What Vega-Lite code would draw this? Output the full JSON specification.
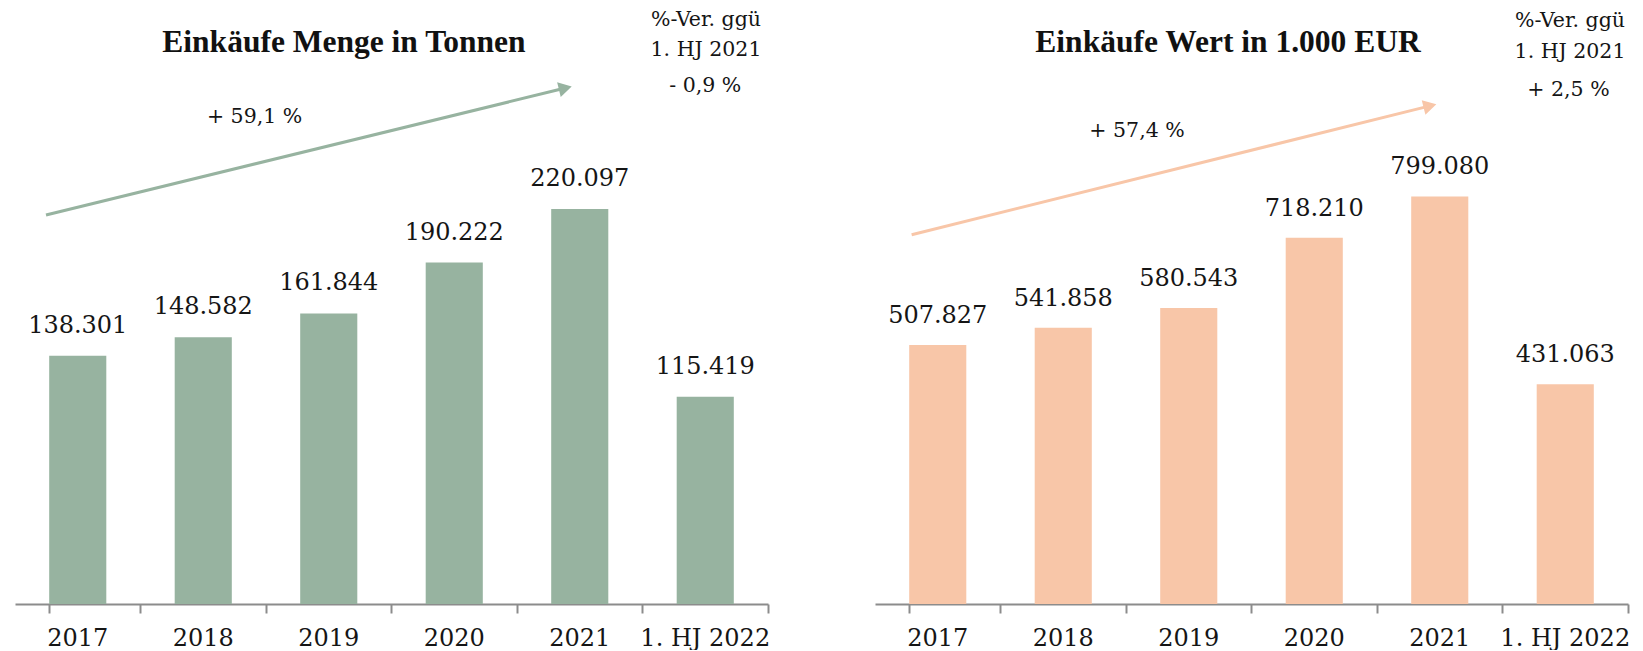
{
  "$schema": "https://vega.github.io/schema/vega-lite/v6.json",
  "background": "white",
  "padding": {"left": 15, "top": 0, "right": 0, "bottom": 0},
  "bounds": "flush",
  "spacing": 107,
  "config": {
    "view": {"stroke": null},
    "font": "DejaVu Serif",
    "locale": {"number": {"decimal": ",", "thousands": ".", "grouping": [3], "currency": ["", " €"]}}
  },
  "datasets": {
    "menge": [
      {"Jahr": "2017", "Wert": 138301},
      {"Jahr": "2018", "Wert": 148582},
      {"Jahr": "2019", "Wert": 161844},
      {"Jahr": "2020", "Wert": 190222},
      {"Jahr": "2021", "Wert": 220097},
      {"Jahr": "1. HJ 2022", "Wert": 115419}
    ],
    "wert": [
      {"Jahr": "2017", "Wert": 507827},
      {"Jahr": "2018", "Wert": 541858},
      {"Jahr": "2019", "Wert": 580543},
      {"Jahr": "2020", "Wert": 718210},
      {"Jahr": "2021", "Wert": 799080},
      {"Jahr": "1. HJ 2022", "Wert": 431063}
    ],
    "menge_title": [{"t": "Einkäufe Menge in Tonnen", "xi": 2.621, "val": 312533}],
    "menge_notes": [
      {"t": "+ 59,1 %", "xi": 1.909, "val": 271087},
      {"t": "%-Ver. ggü", "xi": 5.506, "val": 325346},
      {"t": "1. HJ 2021", "xi": 5.506, "val": 308633},
      {"t": "- 0,9 %", "xi": 5.5, "val": 288578}
    ],
    "menge_arrow": [{"xs": 0.247, "vs": 216712, "xe": 4.361, "ve": 287018}],
    "menge_head": [{"xi": 4.385, "val": 287408}],
    "wert_title": [{"t": "Einkäufe Wert in 1.000 EUR", "xi": 2.813, "val": 1100009}],
    "wert_notes": [
      {"t": "+ 57,4 %", "xi": 2.088, "val": 927458},
      {"t": "%-Ver. ggü", "xi": 5.538, "val": 1143146},
      {"t": "1. HJ 2021", "xi": 5.538, "val": 1082362},
      {"t": "+ 2,5 %", "xi": 5.526, "val": 1007851}
    ],
    "wert_arrow": [{"xs": 0.292, "vs": 724124, "xe": 4.398, "ve": 975302}],
    "wert_head": [{"xi": 4.422, "val": 976674}]
  },
  "hconcat": [
    {
      "width": 753,
      "height": 604,
      "resolve": {"scale": {"x": "independent"}},
      "layer": [
        {
          "data": {"name": "menge"},
          "mark": {"type": "bar", "color": "#97b3a0"},
          "encoding": {
            "x": {"field": "Jahr", "type": "nominal", "sort": null,
              "scale": {"paddingInner": 0.545, "paddingOuter": 0.2725},
              "axis": {"title": null, "domainColor": "#8c8c8c", "domainWidth": 2, "tickColor": "#8c8c8c", "tickWidth": 2, "tickSize": 9,
                "labelFont": "DejaVu Serif", "labelFontSize": 24, "labelColor": "#151515", "labelAngle": 0, "labelPadding": 32,
                "labelBaseline": "alphabetic", "bandPosition": 1.599, "tickExtra": true, "grid": false, "labelOverlap": false}},
            "y": {"field": "Wert", "type": "quantitative", "scale": {"domain": [0, 336488], "nice": false}, "axis": null}
          }
        },
        {
          "data": {"name": "menge"},
          "mark": {"type": "text", "dy": -23, "baseline": "alphabetic", "align": "center", "fontSize": 24, "font": "DejaVu Serif", "color": "#151515"},
          "encoding": {
            "x": {"field": "Jahr", "type": "nominal", "sort": null, "scale": {"paddingInner": 0.545, "paddingOuter": 0.2725}, "axis": null},
            "y": {"field": "Wert", "type": "quantitative", "scale": {"domain": [0, 336488], "nice": false}, "axis": null},
            "text": {"field": "Wert", "type": "quantitative", "format": ",d"}
          }
        },
        {
          "data": {"name": "menge_arrow"},
          "mark": {"type": "rule", "color": "#97b3a0", "strokeWidth": 3},
          "encoding": {
            "x": {"field": "xs", "type": "quantitative", "scale": {"domain": [0, 6], "nice": false, "zero": false}, "axis": null},
            "x2": {"field": "xe"},
            "y": {"field": "vs", "type": "quantitative", "scale": {"domain": [0, 336488], "nice": false}, "axis": null},
            "y2": {"field": "ve"}
          }
        },
        {
          "data": {"name": "menge_head"},
          "mark": {"type": "point", "shape": "triangle-right", "filled": true, "size": 230, "angle": 346.3, "color": "#97b3a0", "opacity": 1},
          "encoding": {
            "x": {"field": "xi", "type": "quantitative", "scale": {"domain": [0, 6], "nice": false, "zero": false}, "axis": null},
            "y": {"field": "val", "type": "quantitative", "scale": {"domain": [0, 336488], "nice": false}, "axis": null}
          }
        },
        {
          "data": {"name": "menge_title"},
          "mark": {"type": "text", "font": "Liberation Serif", "fontWeight": "bold", "fontSize": 31.5, "baseline": "middle", "align": "center", "color": "#111111"},
          "encoding": {
            "x": {"field": "xi", "type": "quantitative", "scale": {"domain": [0, 6], "nice": false, "zero": false}, "axis": null},
            "y": {"field": "val", "type": "quantitative", "scale": {"domain": [0, 336488], "nice": false}, "axis": null},
            "text": {"field": "t"}
          }
        },
        {
          "data": {"name": "menge_notes"},
          "mark": {"type": "text", "font": "DejaVu Serif", "fontSize": 20.5, "baseline": "middle", "align": "center", "color": "#151515"},
          "encoding": {
            "x": {"field": "xi", "type": "quantitative", "scale": {"domain": [0, 6], "nice": false, "zero": false}, "axis": null},
            "y": {"field": "val", "type": "quantitative", "scale": {"domain": [0, 336488], "nice": false}, "axis": null},
            "text": {"field": "t"}
          }
        }
      ]
    },
    {
      "width": 753,
      "height": 604,
      "resolve": {"scale": {"x": "independent"}},
      "layer": [
        {
          "data": {"name": "wert"},
          "mark": {"type": "bar", "color": "#f8c6a8"},
          "encoding": {
            "x": {"field": "Jahr", "type": "nominal", "sort": null,
              "scale": {"paddingInner": 0.545, "paddingOuter": 0.2725},
              "axis": {"title": null, "domainColor": "#8c8c8c", "domainWidth": 2, "tickColor": "#8c8c8c", "tickWidth": 2, "tickSize": 9,
                "labelFont": "DejaVu Serif", "labelFontSize": 24, "labelColor": "#151515", "labelAngle": 0, "labelPadding": 32,
                "labelBaseline": "alphabetic", "bandPosition": 1.599, "tickExtra": true, "grid": false, "labelOverlap": false}},
            "y": {"field": "Wert", "type": "quantitative", "scale": {"domain": [0, 1184323], "nice": false}, "axis": null}
          }
        },
        {
          "data": {"name": "wert"},
          "mark": {"type": "text", "dy": -22, "baseline": "alphabetic", "align": "center", "fontSize": 24, "font": "DejaVu Serif", "color": "#151515"},
          "encoding": {
            "x": {"field": "Jahr", "type": "nominal", "sort": null, "scale": {"paddingInner": 0.545, "paddingOuter": 0.2725}, "axis": null},
            "y": {"field": "Wert", "type": "quantitative", "scale": {"domain": [0, 1184323], "nice": false}, "axis": null},
            "text": {"field": "Wert", "type": "quantitative", "format": ",d"}
          }
        },
        {
          "data": {"name": "wert_arrow"},
          "mark": {"type": "rule", "color": "#f8c6a8", "strokeWidth": 3},
          "encoding": {
            "x": {"field": "xs", "type": "quantitative", "scale": {"domain": [0, 6], "nice": false, "zero": false}, "axis": null},
            "x2": {"field": "xe"},
            "y": {"field": "vs", "type": "quantitative", "scale": {"domain": [0, 1184323], "nice": false}, "axis": null},
            "y2": {"field": "ve"}
          }
        },
        {
          "data": {"name": "wert_head"},
          "mark": {"type": "point", "shape": "triangle-right", "filled": true, "size": 230, "angle": 346.0, "color": "#f8c6a8", "opacity": 1},
          "encoding": {
            "x": {"field": "xi", "type": "quantitative", "scale": {"domain": [0, 6], "nice": false, "zero": false}, "axis": null},
            "y": {"field": "val", "type": "quantitative", "scale": {"domain": [0, 1184323], "nice": false}, "axis": null}
          }
        },
        {
          "data": {"name": "wert_title"},
          "mark": {"type": "text", "font": "Liberation Serif", "fontWeight": "bold", "fontSize": 31.5, "baseline": "middle", "align": "center", "color": "#111111"},
          "encoding": {
            "x": {"field": "xi", "type": "quantitative", "scale": {"domain": [0, 6], "nice": false, "zero": false}, "axis": null},
            "y": {"field": "val", "type": "quantitative", "scale": {"domain": [0, 1184323], "nice": false}, "axis": null},
            "text": {"field": "t"}
          }
        },
        {
          "data": {"name": "wert_notes"},
          "mark": {"type": "text", "font": "DejaVu Serif", "fontSize": 20.5, "baseline": "middle", "align": "center", "color": "#151515"},
          "encoding": {
            "x": {"field": "xi", "type": "quantitative", "scale": {"domain": [0, 6], "nice": false, "zero": false}, "axis": null},
            "y": {"field": "val", "type": "quantitative", "scale": {"domain": [0, 1184323], "nice": false}, "axis": null},
            "text": {"field": "t"}
          }
        }
      ]
    }
  ]
}
